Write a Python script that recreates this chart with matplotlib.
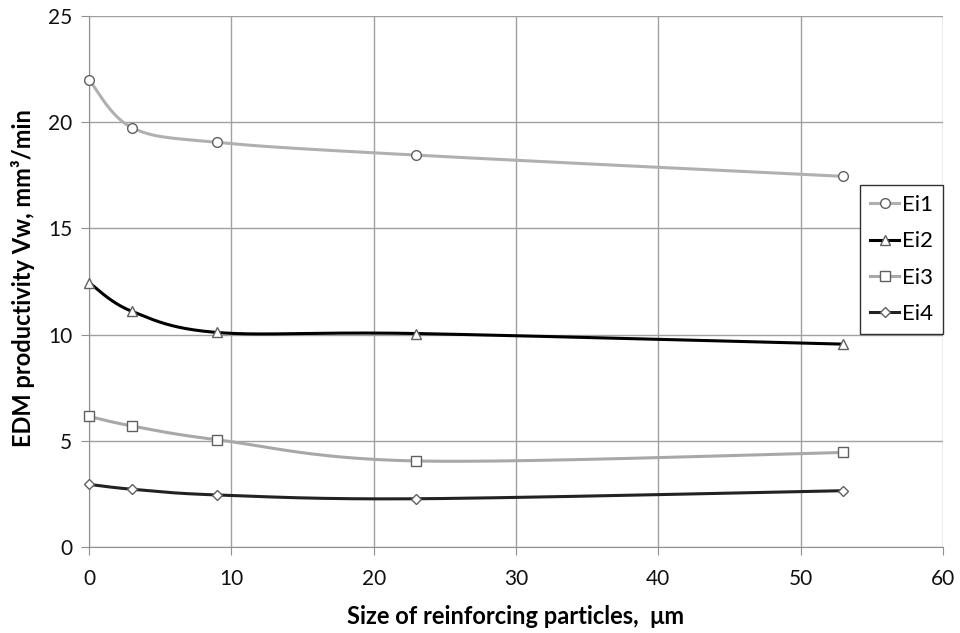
import numpy as np
import matplotlib.pyplot as plt

plt.rcParams['font.family'] = ['Lato', 'DejaVu Sans']

sizes = [0, 3, 9, 23, 53]
ei1 = [22.0, 19.75, 19.05, 18.45, 17.45]
ei2 = [12.45, 11.1, 10.1, 10.05, 9.55]
ei3 = [6.15, 5.7, 5.05, 4.05, 4.45]
ei4 = [2.95, 2.72, 2.45, 2.27, 2.65]
labels = ['Ei1', 'Ei2', 'Ei3', 'Ei4']


def smooth(x, y, n=40):
    # Excel-like smoothed line: cubic Bezier through points, Catmull-Rom tangents
    x = np.asarray(x, float)
    y = np.asarray(y, float)
    px = np.concatenate([[x[0]], x, [x[-1]]])
    py = np.concatenate([[y[0]], y, [y[-1]]])
    xs, ys = [], []
    t = np.linspace(0, 1, n)
    for i in range(len(x) - 1):
        p0 = np.array([px[i + 1], py[i + 1]])
        p3 = np.array([px[i + 2], py[i + 2]])
        c1 = p0 + (np.array([px[i + 2], py[i + 2]]) - np.array([px[i], py[i]])) / 6
        c2 = p3 - (np.array([px[i + 3], py[i + 3]]) - np.array([px[i + 1], py[i + 1]])) / 6
        b = ((1 - t) ** 3)[:, None] * p0 + (3 * (1 - t) ** 2 * t)[:, None] * c1 \
            + (3 * (1 - t) * t ** 2)[:, None] * c2 + (t ** 3)[:, None] * p3
        xs.append(b[:, 0])
        ys.append(b[:, 1])
    return np.concatenate(xs), np.concatenate(ys)


fig = plt.figure(figsize=(9.6, 6.33), dpi=100)
ax = fig.add_axes([0.0927, 0.1359, 0.8896, 0.8388])

styles = [
    (ei1, '#b0b0b0', 'o', 7),
    (ei2, '#000000', '^', 7),
    (ei3, '#a8a8a8', 's', 7),
    (ei4, '#222222', 'D', 5),
]
for (vals, col, mk, ms), lab in zip(styles, labels):
    sx, sy = smooth(sizes, vals)
    ax.plot(sx, sy, color=col, lw=2.2, zorder=3, clip_on=False)
    ax.plot(sizes, vals, ls='none', marker=mk, ms=ms, mfc='white',
            mec='#606060', mew=1, zorder=4, clip_on=False)
    ax.plot([], [], color=col, lw=2.2, marker=mk, ms=ms, mfc='white',
            mec='#606060', mew=1, label=lab)

ax.set_xlim(0, 60)
ax.set_ylim(0, 25)
ax.set_xticks(range(0, 61, 10))
ax.set_yticks(range(0, 26, 5))
ax.grid(True, color='#a0a0a0', lw=1)
ax.set_axisbelow(True)
for s in ['top', 'right']:
    ax.spines[s].set_visible(False)
for s in ['left', 'bottom']:
    ax.spines[s].set_color('#909090')
ax.tick_params(axis='both', labelsize=15, color='#909090', length=6,
               labelcolor='#111111')
ax.tick_params(axis='y', pad=6)
ax.tick_params(axis='x', pad=10)

ax.set_xlabel('Size of reinforcing particles,  μm', fontsize=17,
              fontweight='bold')
ax.set_ylabel('EDM productivity Vw, mm³/min', fontsize=17,
              fontweight='bold')
ax.xaxis.label.set_verticalalignment('center')
ax.yaxis.label.set_verticalalignment('center')
ax.xaxis.set_label_coords(0.5, -0.13)
ax.yaxis.set_label_coords(-0.077, 0.507)

leg = ax.legend(loc='upper right', bbox_to_anchor=(1.0, 0.682),
                fontsize=16, frameon=True, fancybox=False, handlelength=1.3,
                handletextpad=0.12, borderpad=0.45, labelspacing=0.74,
                borderaxespad=0)
leg.get_frame().set_edgecolor('#303030')
leg.get_frame().set_linewidth(1)
leg.get_frame().set_alpha(1)

fig.savefig('out.png', dpi=100)
